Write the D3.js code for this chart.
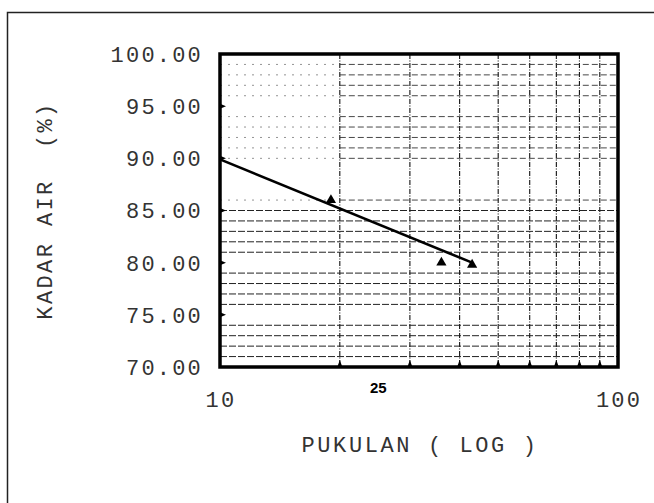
<!DOCTYPE html>
<html><head><meta charset="utf-8">
<script src="https://cdn.jsdelivr.net/npm/d3@7"></script>
<style>
html,body{margin:0;padding:0;background:#fff;}
svg{display:block;}
</style></head>
<body>
<script>
// ---- data ----
const pointX = [19, 36, 43];          // pukulan (blows)
const pointY = [86.0, 80.0, 79.8];    // kadar air (%)
const fitX = [10, 43];                // drawn trend line ends
const fitY = [89.9, 80.0];
const yTicks = [70, 75, 80, 85, 90, 95, 100];
const xMinor = [20, 30, 40, 50, 60, 70, 80, 90];
const gridLower = [71,72,73,74,76,77,78,79,81,82,83,84,85];
const gridUpper = [86,90,91,92,93,94,96,97,98,99];
const xTickLabels = [10, 100];
const specialLabel = [25];

const W = 654, H = 503;
const svg = d3.select("body").append("svg").attr("width", W).attr("height", H);

const x = d3.scaleLog().domain([10, 100]).range([220, 618]);
const y = d3.scaleLinear().domain([70, 100]).range([367, 54]);

// outer frame (top + left)
svg.append("path").attr("d", `M7.5,503 V12.5 H654`).attr("fill","none")
  .attr("stroke","#222").attr("stroke-width",1.5);

// grid
const g = svg.append("g");
g.selectAll("line.vl").data(xMinor).join("line").attr("class","vl")
  .attr("x1", d=>x(d)).attr("x2", d=>x(d)).attr("y1", y(100)).attr("y2", y(70))
  .attr("stroke","#111").attr("stroke-width",1.1).attr("stroke-dasharray","5,1.5,1,1.5");
g.selectAll("line.hl").data(gridLower).join("line").attr("class","hl")
  .attr("x1", x(10)).attr("x2", x(100)).attr("y1", d=>y(d)).attr("y2", d=>y(d))
  .attr("stroke","#222").attr("stroke-width",1).attr("stroke-dasharray","7,2");
g.selectAll("line.hu1").data(gridUpper).join("line").attr("class","hu1")
  .attr("x1", x(10)).attr("x2", x(20)).attr("y1", d=>y(d)).attr("y2", d=>y(d))
  .attr("stroke","#777").attr("stroke-width",0.8).attr("stroke-dasharray","2,6");
g.selectAll("line.hu2").data(gridUpper).join("line").attr("class","hu2")
  .attr("x1", x(20)).attr("x2", x(100)).attr("y1", d=>y(d)).attr("y2", d=>y(d))
  .attr("stroke","#333").attr("stroke-width",0.9).attr("stroke-dasharray","6,3");

// plot box
svg.append("rect").attr("x", x(10)).attr("y", y(100))
  .attr("width", x(100)-x(10)).attr("height", y(70)-y(100))
  .attr("fill","none").attr("stroke","#000").attr("stroke-width",3.5);

// small tick markers
svg.selectAll("path.yt").data(yTicks.slice(1,-1)).join("path").attr("class","yt")
  .attr("d", d=>`M${x(10)},${y(d)-2.5} L${x(10)+6},${y(d)} L${x(10)},${y(d)+2.5}Z`).attr("fill","#000");
svg.selectAll("path.xt").data(xMinor).join("path").attr("class","xt")
  .attr("d", d=>`M${x(d)-2.5},${y(70)} L${x(d)},${y(70)-7} L${x(d)+2.5},${y(70)}Z`).attr("fill","#000");

// y tick labels
const mono = "'Liberation Mono','DejaVu Sans Mono',monospace";
svg.selectAll("text.yl").data(yTicks).join("text").attr("class","yl")
  .attr("x", 203).attr("y", d=>y(d)).attr("dy","0.36em").attr("text-anchor","end")
  .attr("font-family", mono).attr("font-size",22).attr("letter-spacing",2.2).attr("fill","#333")
  .text(d=>d3.format(".2f")(d));

// x tick labels
svg.selectAll("text.xl").data(xTickLabels).join("text").attr("class","xl")
  .attr("x", d=>x(d)+1).attr("y", 407).attr("text-anchor","middle")
  .attr("font-family", mono).attr("font-size",22).attr("letter-spacing",2.2).attr("fill","#333").text(d=>d);
svg.selectAll("text.sl").data(specialLabel).join("text").attr("class","sl")
  .attr("x", d=>x(d)).attr("y", 393).attr("text-anchor","middle")
  .attr("font-family","'Liberation Sans',Arial,sans-serif").attr("font-weight","bold")
  .attr("font-size",15).attr("fill","#000").text(d=>d);

// axis titles
svg.append("text").attr("x", (x(10)+x(100))/2 + 1).attr("y", 452).attr("text-anchor","middle")
  .attr("font-family", mono).attr("font-size",22).attr("letter-spacing",2.6).attr("fill","#333")
  .attr("xml:space","preserve").text("PUKULAN ( LOG )");
svg.append("text").attr("transform", `translate(52,${(y(70)+y(100))/2}) rotate(-90)`)
  .attr("text-anchor","middle").attr("font-family", mono).attr("font-size",22).attr("letter-spacing",2.4)
  .attr("fill","#333").attr("xml:space","preserve").text("KADAR AIR  (%)");

// trend line
const line = d3.line().x(d=>x(d[0])).y(d=>y(d[1]));
svg.append("path").datum(fitX.map((v,i)=>[v, fitY[i]])).attr("d", line)
  .attr("fill","none").attr("stroke","#000").attr("stroke-width",2.6);

// data points (triangles)
const tri = d3.symbol().type(d3.symbolTriangle).size(45);
svg.selectAll("path.pt").data(pointX.map((v,i)=>[v, pointY[i]])).join("path").attr("class","pt")
  .attr("transform", d=>`translate(${x(d[0])},${y(d[1])})`).attr("d", tri).attr("fill","#000");
</script>
</body></html>
